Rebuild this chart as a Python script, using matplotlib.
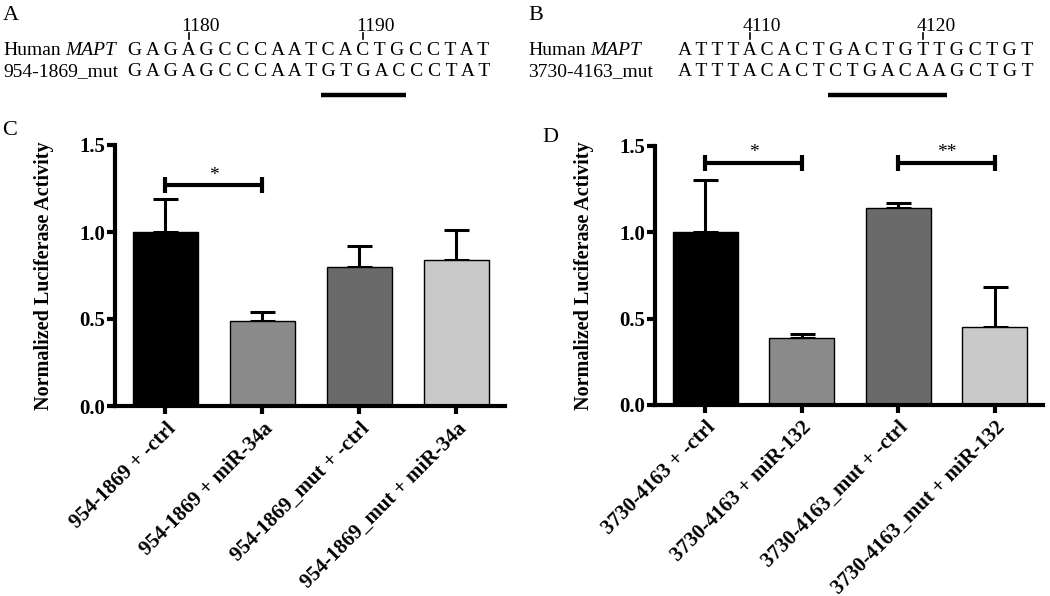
import matplotlib.pyplot as plt
from matplotlib.lines import Line2D
from matplotlib.font_manager import FontProperties

plt.rcParams['font.family'] = ['Liberation Serif', 'DejaVu Serif']

W, H = 1050, 596

# ---- data ----
groups_c = ['954-1869 + -ctrl', '954-1869 + miR-34a',
            '954-1869_mut + -ctrl', '954-1869_mut + miR-34a']
mean_c = [1.00, 0.49, 0.80, 0.84]
err_c = [0.19, 0.05, 0.12, 0.17]
sig_c = [(0, 1, 1.27, '*')]

groups_d = ['3730-4163 + -ctrl', '3730-4163 + miR-132',
            '3730-4163_mut + -ctrl', '3730-4163_mut + miR-132']
mean_d = [1.00, 0.39, 1.14, 0.45]
err_d = [0.30, 0.02, 0.03, 0.23]
sig_d = [(0, 1, 1.40, '*'), (2, 3, 1.40, '**')]

bar_colors = ['#000000', '#8a8a8a', '#6a6a6a', '#c9c9c9']

seq_a_human = 'GAGAGCCCAATCACTGCCTAT'
seq_a_mut = 'GAGAGCCCAATGTGACCCTAT'
seq_a_start = 1177
seq_a_name = '954-1869_mut'

seq_b_human = 'ATTTACACTGACTGTTGCTGT'
seq_b_mut = 'ATTTACACTCTGACAAGCTGT'
seq_b_start = 4106
seq_b_name = '3730-4163_mut'

fig = plt.figure(figsize=(10.5, 5.96), dpi=100)
renderer = fig.canvas.get_renderer()


def fx(x):
    return x / W


def fy(y):
    return 1 - y / H


def width(s, prop):
    return renderer.get_text_width_height_descent(s, prop, ismath=False)[0]


def seq_panel(x0, letter, human, mut, start, mut_name, seq_left):
    fs = 14
    prop = FontProperties(family='Liberation Serif', size=fs)
    fig.text(fx(x0 + 3), fy(20), letter, fontsize=16, va='baseline')
    # row labels
    fig.text(fx(x0 + 3), fy(55), 'Human', fontsize=fs, va='baseline')
    fig.text(fx(x0 + 3 + width('Human', prop) + 5), fy(55), 'MAPT',
             fontsize=fs, style='italic', va='baseline')
    fig.text(fx(x0 + 3), fy(76), mut_name, fontsize=fs, va='baseline')
    s_h = ' '.join(human)
    s_m = ' '.join(mut)
    fig.text(fx(seq_left), fy(55), s_h, fontsize=fs, va='baseline')
    fig.text(fx(seq_left), fy(76), s_m, fontsize=fs, va='baseline')

    def center(i, s):
        return seq_left + width(s[:2 * i + 1], prop) - width(s[2 * i], prop) / 2

    # position ticks every 10
    for i in range(len(human)):
        num = start + i
        if num % 10 == 0:
            cx = center(i, s_h)
            fig.add_artist(Line2D([fx(cx), fx(cx)], [fy(33), fy(39)],
                                  color='black', lw=1.2))
            fig.text(fx(cx - 7), fy(31), str(num), fontsize=fs, va='baseline')

    # underline mutated region
    diff = [i for i in range(len(human)) if human[i] != mut[i]]
    i0, i1 = diff[0], diff[-1]
    xl = center(i0, s_m) - width(mut[i0], prop) / 2 - 1
    xr = center(i1, s_m) + width(mut[i1], prop) / 2 + 1
    fig.add_artist(Line2D([fx(xl), fx(xr)], [fy(95), fy(95)],
                          color='black', lw=3.2, solid_capstyle='butt'))


seq_panel(0, 'A', seq_a_human, seq_a_mut, seq_a_start, seq_a_name, 128)
seq_panel(525, 'B', seq_b_human, seq_b_mut, seq_b_start, seq_b_name, 678)


def bar_panel(rect, letter, lpos, groups, means, errs, sigs):
    l, r, b, t = rect
    ax = fig.add_axes([fx(l), fy(b), (r - l) / W, (b - t) / H])
    x = list(range(len(groups)))
    ax.bar(x, means, width=0.67, color=bar_colors, edgecolor='black',
           linewidth=1, zorder=2)
    ax.errorbar(x, means, yerr=[[0] * len(errs), errs], fmt='none',
                ecolor='black', elinewidth=2.2, capsize=9, capthick=2.2,
                zorder=1)
    for i0, i1, y, star in sigs:
        ax.plot([i0, i1], [y, y], color='black', lw=3, solid_capstyle='butt')
        ax.plot([i0, i1], [y, y], ls='none', marker='|', ms=12,
                mew=3, color='black')
        ax.annotate(star, xy=((i0 + i1) / 2, y), xytext=(0, 1),
                    textcoords='offset points', ha='center', va='bottom',
                    fontsize=14)
    ax.set_xlim(-0.52, 3.5)
    ax.set_ylim(0, 1.5)
    ax.set_yticks([0, 0.5, 1.0, 1.5])
    ax.set_yticklabels(['0.0', '0.5', '1.0', '1.5'], fontsize=15,
                       fontweight='bold')
    ax.set_xticks(x)
    ax.set_xticklabels(groups, rotation=45, ha='right',
                       rotation_mode='anchor', fontsize=15, fontweight='bold')
    for side in ['top', 'right']:
        ax.spines[side].set_visible(False)
    for side in ['left', 'bottom']:
        ax.spines[side].set_linewidth(3)
    ax.tick_params(axis='both', direction='out', length=6, width=3, pad=1)
    ax.tick_params(axis='x', pad=3)
    ax.set_ylabel('Normalized Luciferase Activity', fontsize=14.5,
                  fontweight='bold')
    ax.yaxis.set_label_coords(-0.157, 0.5)
    fig.text(fx(lpos[0]), fy(lpos[1]), letter, fontsize=16, va='baseline')
    return ax


bar_panel((115, 505, 406, 145), 'C', (2, 135), groups_c, mean_c, err_c, sig_c)
bar_panel((655, 1043, 405, 145.5), 'D', (542, 142), groups_d, mean_d, err_d,
          sig_d)

fig.savefig('out.png', dpi=100)
